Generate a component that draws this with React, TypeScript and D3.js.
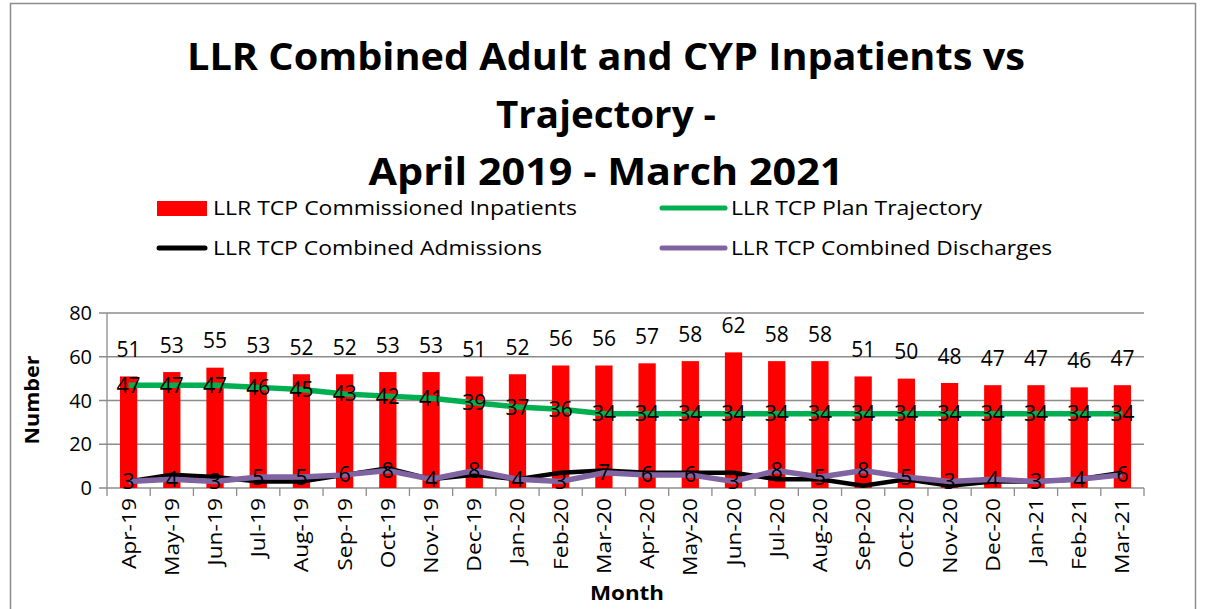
import React from "react";
import * as d3 from "d3";

const months = [
  "Apr-19", "May-19", "Jun-19", "Jul-19", "Aug-19", "Sep-19", "Oct-19", "Nov-19",
  "Dec-19", "Jan-20", "Feb-20", "Mar-20", "Apr-20", "May-20", "Jun-20", "Jul-20",
  "Aug-20", "Sep-20", "Oct-20", "Nov-20", "Dec-20", "Jan-21", "Feb-21", "Mar-21",
];
const inpatients = [51, 53, 55, 53, 52, 52, 53, 53, 51, 52, 56, 56, 57, 58, 62, 58, 58, 51, 50, 48, 47, 47, 46, 47];
const trajectory = [47, 47, 47, 46, 45, 43, 42, 41, 39, 37, 36, 34, 34, 34, 34, 34, 34, 34, 34, 34, 34, 34, 34, 34];
const admissions = [3, 6, 5, 3, 3, 6, 9, 4, 6, 4, 7, 8, 7, 7, 7, 4, 4, 1, 4, 1, 3, 3, 4, 7];
const discharges = [3, 4, 3, 5, 5, 6, 8, 4, 8, 4, 3, 7, 6, 6, 3, 8, 5, 8, 5, 3, 4, 3, 4, 6];
const yTicks = [0, 20, 40, 60, 80];
const titleLines = ["LLR Combined Adult and CYP Inpatients vs", "Trajectory -", "April 2019 - March 2021"];

const W = 1206;
const H = 609;
const FONT = "'Open Sans', 'DejaVu Sans', sans-serif";

export default function App() {
  const x = d3.scaleBand<string>().domain(months).range([107, 1144]).paddingInner(0);
  const y = d3.scaleLinear().domain([0, 80]).range([488, 313]);
  const cx = (m: string) => (x(m) ?? 0) + x.bandwidth() / 2;
  const barW = x.bandwidth() * 0.4;

  const line = d3
    .line<number>()
    .x((_, i) => cx(months[i]))
    .y((d) => y(d));

  const lineLabels = (vals: number[]) =>
    vals.map((v, i) => (
      <text key={i} x={cx(months[i])} y={y(v)} dy="0.36em" textAnchor="middle" fontSize={21} fill="#000">
        {v}
      </text>
    ));

  // widths measured on the reference, the original text is horizontally stretched
  const titleLen = [838, 220, 475];
  const titleY = [70, 128, 185];

  return (
    <svg width={W} height={H} style={{ position: "absolute", left: 0, top: 0, fontFamily: FONT }}>
      <rect x={0} y={0} width={W} height={H} fill="#fff" />
      <rect x={10.5} y={3.5} width={1185} height={620} fill="none" stroke="#8c8c8c" strokeWidth={1.5} />

      {/* title */}
      <g fontWeight="bold" fontSize={38} fill="#000">
        {titleLines.map((t, i) => (
          <text key={i} x={606 - titleLen[i] / 2} y={titleY[i]} textLength={titleLen[i]} lengthAdjust="spacingAndGlyphs">
            {t}
          </text>
        ))}
      </g>

      {/* legend */}
      <g fontSize={20} fill="#000">
        <rect x={157} y={201} width={50} height={15} fill="#ff0000" />
        <text x={213} y={208} dy="0.35em" textLength={364} lengthAdjust="spacingAndGlyphs">LLR TCP Commissioned Inpatients</text>
        <line x1={662} x2={725} y1={208} y2={208} stroke="#00b050" strokeWidth={5} strokeLinecap="round" />
        <text x={731} y={208} dy="0.35em" textLength={251} lengthAdjust="spacingAndGlyphs">LLR TCP Plan Trajectory</text>
        <line x1={159} x2={205} y1={248} y2={248} stroke="#000" strokeWidth={5} strokeLinecap="round" />
        <text x={213} y={248} dy="0.35em" textLength={329} lengthAdjust="spacingAndGlyphs">LLR TCP Combined Admissions</text>
        <line x1={662} x2={725} y1={248} y2={248} stroke="#8064a2" strokeWidth={5} strokeLinecap="round" />
        <text x={731} y={248} dy="0.35em" textLength={321} lengthAdjust="spacingAndGlyphs">LLR TCP Combined Discharges</text>
      </g>

      {/* gridlines */}
      {yTicks.map((t) => (
        <line key={t} x1={99} x2={1144} y1={y(t)} y2={y(t)} stroke="#8c8c8c" strokeWidth={1.3} />
      ))}
      <line x1={107} x2={107} y1={313} y2={488} stroke="#8c8c8c" strokeWidth={1.3} />
      {months.map((m) => (
        <line key={m} x1={x(m)} x2={x(m)} y1={488} y2={496} stroke="#8c8c8c" strokeWidth={1.3} />
      ))}
      <line x1={1144} x2={1144} y1={488} y2={496} stroke="#8c8c8c" strokeWidth={1.3} />

      {/* y axis labels */}
      <g fontSize={20} textAnchor="end" fill="#000">
        {yTicks.map((t) => (
          <text key={t} x={92} y={y(t)} dy="0.35em">{t}</text>
        ))}
      </g>
      <text transform="translate(32,400) rotate(-90) scale(1.08,1)" textAnchor="middle" fontSize={20} fontWeight="bold" dy="0.35em">
        Number
      </text>

      {/* bars */}
      {inpatients.map((v, i) => (
        <rect key={i} x={cx(months[i]) - barW / 2} y={y(v)} width={barW} height={y(0) - y(v)} fill="#ff0000" />
      ))}

      {/* lines */}
      <path d={line(trajectory) ?? ""} fill="none" stroke="#00b050" strokeWidth={5.5} />
      <path d={line(admissions) ?? ""} fill="none" stroke="#000" strokeWidth={4.5} />
      <path d={line(discharges) ?? ""} fill="none" stroke="#8064a2" strokeWidth={5.5} />

      {/* data labels */}
      {inpatients.map((v, i) => (
        <text key={i} x={cx(months[i])} y={y(v) - 27} dy="0.36em" textAnchor="middle" fontSize={21} fill="#000">
          {v}
        </text>
      ))}
      {lineLabels(trajectory)}
      {lineLabels(discharges)}

      {/* x axis labels */}
      <g fontSize={20} fill="#000">
        {months.map((m) => (
          <text key={m} transform={`translate(${cx(m)},498) rotate(-90) scale(1.14,1)`} textAnchor="end" dy="0.35em">
            {m}
          </text>
        ))}
      </g>
      <text transform="translate(627,600) scale(1.12,1)" textAnchor="middle" fontSize={20} fontWeight="bold">Month</text>
    </svg>
  );
}
